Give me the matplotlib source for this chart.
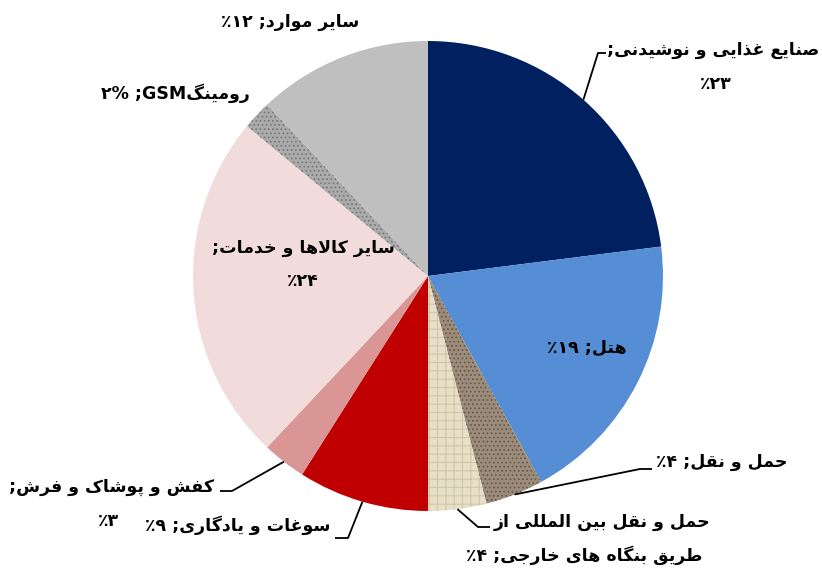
import matplotlib
matplotlib.use("Agg")
import matplotlib.pyplot as plt
import numpy as np

# ---------------- data ----------------
labels_first = ["صنایع غذایی و نوشیدنی;", "هتل; ۱۹٪", "حمل و نقل; ۴٪",
                "حمل و نقل بین المللی از", "سوغات و یادگاری; ۹٪",
                "کفش و پوشاک و فرش;", "سایر کالاها و خدمات;",
                "رومینگGSM; ۲%", "سایر موارد; ۱۲٪"]
labels_second = ["۲۳٪", "", "", "طریق بنگاه های خارجی; ۴٪", "", "۳٪", "۲۴٪", "", ""]
values = [23, 19, 4, 4, 9, 3, 24, 2, 12]
colors = ["#002060", "#558ED5", "#9C8C7C", "#E8DFC8", "#C00000",
          "#D99694", "#F2DCDB", "#ABABAB", "#BFBFBF"]
hatches = [None, None, "....", "++", None, None, None, "....", None]
hatch_colors = [None, None, "#6A5A4A", "#D2C6A8", None, None, None, "#7A7A7A", None]

# ---------------- Persian shaping (presentation forms + visual order) ----------------
FORMS = {  # iso, fin, ini, med
    "ا": ("\uFE8D", "\uFE8E", None, None),
    "ب": ("\uFE8F", "\uFE90", "\uFE91", "\uFE92"),
    "پ": ("\uFB56", "\uFB57", "\uFB58", "\uFB59"),
    "ت": ("\uFE95", "\uFE96", "\uFE97", "\uFE98"),
    "ج": ("\uFE9D", "\uFE9E", "\uFE9F", "\uFEA0"),
    "ح": ("\uFEA1", "\uFEA2", "\uFEA3", "\uFEA4"),
    "خ": ("\uFEA5", "\uFEA6", "\uFEA7", "\uFEA8"),
    "د": ("\uFEA9", "\uFEAA", None, None),
    "ذ": ("\uFEAB", "\uFEAC", None, None),
    "ر": ("\uFEAD", "\uFEAE", None, None),
    "ز": ("\uFEAF", "\uFEB0", None, None),
    "س": ("\uFEB1", "\uFEB2", "\uFEB3", "\uFEB4"),
    "ش": ("\uFEB5", "\uFEB6", "\uFEB7", "\uFEB8"),
    "ص": ("\uFEB9", "\uFEBA", "\uFEBB", "\uFEBC"),
    "ط": ("\uFEC1", "\uFEC2", "\uFEC3", "\uFEC4"),
    "ع": ("\uFEC9", "\uFECA", "\uFECB", "\uFECC"),
    "غ": ("\uFECD", "\uFECE", "\uFECF", "\uFED0"),
    "ف": ("\uFED1", "\uFED2", "\uFED3", "\uFED4"),
    "ق": ("\uFED5", "\uFED6", "\uFED7", "\uFED8"),
    "ک": ("\uFB8E", "\uFB8F", "\uFB90", "\uFB91"),
    "گ": ("\uFB92", "\uFB93", "\uFB94", "\uFB95"),
    "ل": ("\uFEDD", "\uFEDE", "\uFEDF", "\uFEE0"),
    "م": ("\uFEE1", "\uFEE2", "\uFEE3", "\uFEE4"),
    "ن": ("\uFEE5", "\uFEE6", "\uFEE7", "\uFEE8"),
    "ه": ("\uFEE9", "\uFEEA", "\uFEEB", "\uFEEC"),
    "و": ("\uFEED", "\uFEEE", None, None),
    "ی": ("\uFBFC", "\uFBFD", "\uFBFE", "\uFBFF"),
}


def dual(c):
    return c in FORMS and FORMS[c][2] is not None


def shape(s):
    out = []
    i = 0
    n = len(s)
    while i < n:
        c = s[i]
        if c not in FORMS:
            out.append(c)
            i += 1
            continue
        prev_j = i > 0 and dual(s[i - 1])
        if c == "ل" and i + 1 < n and s[i + 1] == "ا":
            out.append("\uFEFC" if prev_j else "\uFEFB")
            i += 2
            continue
        next_j = dual(c) and i + 1 < n and s[i + 1] in FORMS
        iso, fin, ini, med = FORMS[c]
        if prev_j and next_j:
            out.append(med)
        elif prev_j:
            out.append(fin)
        elif next_j:
            out.append(ini)
        else:
            out.append(iso)
        i += 1
    return "".join(out)


def is_ltr(ch):
    return (ch.isascii() and (ch.isalnum() or ch == "%")) or ("\u06F0" <= ch <= "\u06F9")


def fa(s):
    sh = shape(s)
    runs = []
    for ch in sh:
        t = is_ltr(ch)
        if runs and runs[-1][0] == t:
            runs[-1][1].append(ch)
        else:
            runs.append([t, [ch]])
    res = []
    for t, chars in reversed(runs):
        res.append("".join(chars) if t else "".join(reversed(chars)))
    return "".join(res)


# ---------------- figure ----------------
plt.rcParams["hatch.linewidth"] = 0.8
W, H = 822, 569
fig = plt.figure(figsize=(W / 100, H / 100), dpi=100)
ax = fig.add_axes([0, 0, 1, 1])


def P(x, y):  # pixel (top-left origin) -> data
    return (x, H - y)


cx, cy = P(428, 276)
R = 235
wedges, _ = ax.pie(values, colors=colors, startangle=90, counterclock=False,
                   center=(cx, cy), radius=R, wedgeprops=dict(linewidth=0))
for w, h, hc in zip(wedges, hatches, hatch_colors):
    if h:
        w.set_hatch(h)
        w.set_edgecolor(hc)
        w.set_linewidth(0)

ax.set_xlim(0, W)
ax.set_ylim(0, H)
ax.set_aspect("equal")
ax.axis("off")

FS = 12.5
font = dict(family="DejaVu Sans", fontweight="bold", fontsize=FS, color="black")

# label positions (pixel coords of first line centre)
label_pos = [(713, 50), (587, 348), (722, 462), (602, 522), (238, 525),
             (112, 487), (303, 248), (175, 93), (290, 22)]
second_pos = [(716, 84), None, None, (584, 555), None, (108, 521), (303, 281), None, None]

for i, (lab1, lab2) in enumerate(zip(labels_first, labels_second)):
    x, y = label_pos[i]
    ax.text(*P(x, y), fa(lab1), ha="center", va="center", **font)
    if lab2:
        ax.text(*P(*second_pos[i]), fa(lab2), ha="center", va="center", **font)

# leader lines: from wedge mid angle on the rim, via knee, to label end
knees = {0: [(598, 53), (606, 53)],
         2: [(640, 469), (652, 469)],
         3: [(478, 527), (490, 527)],
         4: [(348, 538), (335, 538)],
         5: [(232, 491), (220, 491)]}
for i, pts in knees.items():
    w = wedges[i]
    th = np.deg2rad((w.theta1 + w.theta2) / 2)
    x0 = cx + R * np.cos(th)
    y0 = cy + R * np.sin(th)
    xs = [x0] + [p[0] for p in pts]
    ys = [y0] + [H - p[1] for p in pts]
    ax.plot(xs, ys, color="black", lw=1.3, solid_capstyle="butt")

fig.savefig("out.png", dpi=100)
